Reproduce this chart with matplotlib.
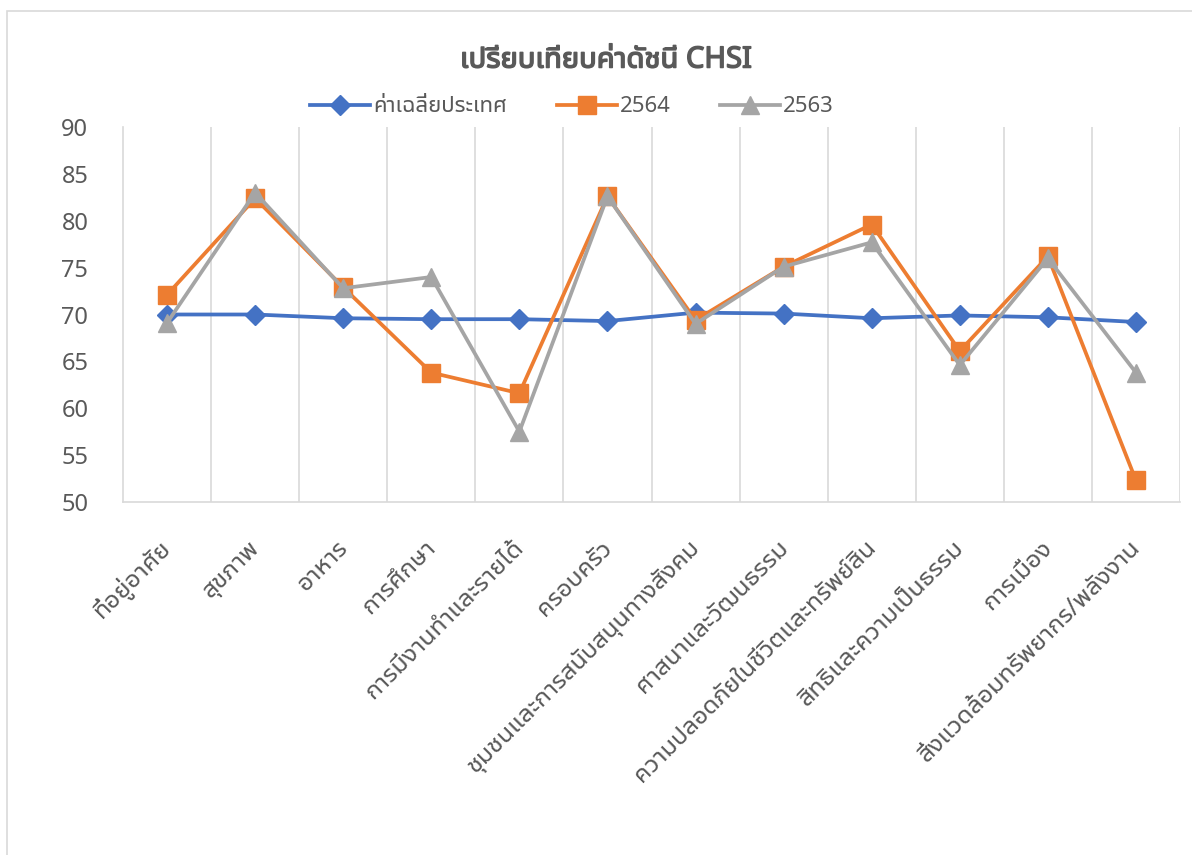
import matplotlib
matplotlib.use("Agg")
import matplotlib.pyplot as plt
import matplotlib.transforms as mtrans
import matplotlib.patheffects as pe
from matplotlib.lines import Line2D
from matplotlib.patches import Rectangle
import numpy as np

categories = ["ที่อยู่อาศัย", "สุขภาพ", "อาหาร", "การศึกษา", "การมีงานทำและรายได้",
              "ครอบครัว", "ชุมชนและการสนับสนุนทางสังคม", "ศาสนาและวัฒนธรรม",
              "ความปลอดภัยในชีวิตและทรัพย์สิน", "สิทธิและความเป็นธรรม", "การเมือง",
              "สิ่งแวดล้อมทรัพยากร/พลังงาน"]
national_avg = [70.0, 70.0, 69.6, 69.5, 69.5, 69.3, 70.2, 70.1, 69.6, 69.9, 69.7, 69.2]
y2564 = [72.1, 82.4, 72.9, 63.8, 61.6, 82.6, 69.4, 75.1, 79.6, 66.1, 76.2, 52.3]
y2563 = [69.1, 83.0, 72.8, 74.0, 57.5, 82.6, 69.0, 75.1, 77.7, 64.6, 76.0, 63.8]
series_names = ["ค่าเฉลี่ยประเทศ", "2564", "2563"]
yticks = [50, 55, 60, 65, 70, 75, 80, 85, 90]
title = "เปรียบเทียบค่าดัชนี CHSI"

FONT = ["Noto Sans Thai UI", "Noto Sans", "DejaVu Sans"]
plt.rcParams["font.family"] = FONT
TXT = "#595959"
COLORS = ["#4472C4", "#ED7D31", "#A5A5A5"]
MARKERS = [("D", 10), ("s", 12.5), ("^", 12.5)]

W, H = 1192, 855
fig = plt.figure(figsize=(W / 100, H / 100), dpi=100)
fig.patches.append(Rectangle((7 / W, -0.1), 1.2, 1.1 - 11 / H, transform=fig.transFigure,
                             fill=False, edgecolor="#d9d9d9", linewidth=1.2))

ax = fig.add_axes([123 / W, 1 - 502 / H, (1180 - 123) / W, (502 - 127) / H])
x = np.arange(len(categories))

for vals, col, (mk, ms), z in zip([national_avg, y2564, y2563], COLORS, MARKERS, [3, 4, 5]):
    ax.plot(x, vals, color=col, lw=2.7, marker=mk, ms=ms, zorder=z)

ax.set_xlim(-0.5, len(categories) - 0.5)
ax.set_ylim(50, 90)
ax.set_yticks(yticks)
ax.set_yticklabels([str(v) for v in yticks], fontsize=17, color=TXT)
ax.tick_params(axis="y", length=0, pad=25)

for b in np.arange(0.5, len(categories), 1.0):
    ax.axvline(b, color="#d9d9d9", lw=1.2, zorder=1)

ax.set_xticks(x)
ax.set_xticklabels([])
ax.tick_params(axis="x", length=0)
base = ax.get_xaxis_transform()
off = mtrans.ScaledTranslation(1 / 100, -42 / 100, fig.dpi_scale_trans)
for i, cat in enumerate(categories):
    ax.text(i, 0, cat, transform=base + off, rotation=45, rotation_mode="anchor",
            ha="right", va="center", fontsize=18, color=TXT, clip_on=False)

for s in ["top", "right"]:
    ax.spines[s].set_visible(False)
for s in ["left", "bottom"]:
    ax.spines[s].set_color("#d9d9d9")
    ax.spines[s].set_linewidth(1.2)

fig.text(606 / W, 1 - 60 / H, title, ha="center", va="center", fontsize=21,
         fontweight="bold", color=TXT,
         path_effects=[pe.withStroke(linewidth=1.1, foreground=TXT)])

legend_x = [310, 557, 720]
for name, col, (mk, ms), lx in zip(series_names, COLORS, MARKERS, legend_x):
    h = Line2D([], [], color=col, lw=2.7, marker=mk, ms=ms)
    fig.legend([h], [name], loc="center left", bbox_to_anchor=(lx / W, 1 - 107 / H),
               frameon=False, fontsize=16, handlelength=2.7, handletextpad=0.15,
               borderpad=0, borderaxespad=0, labelcolor=TXT)

fig.savefig("out.png", dpi=100)
